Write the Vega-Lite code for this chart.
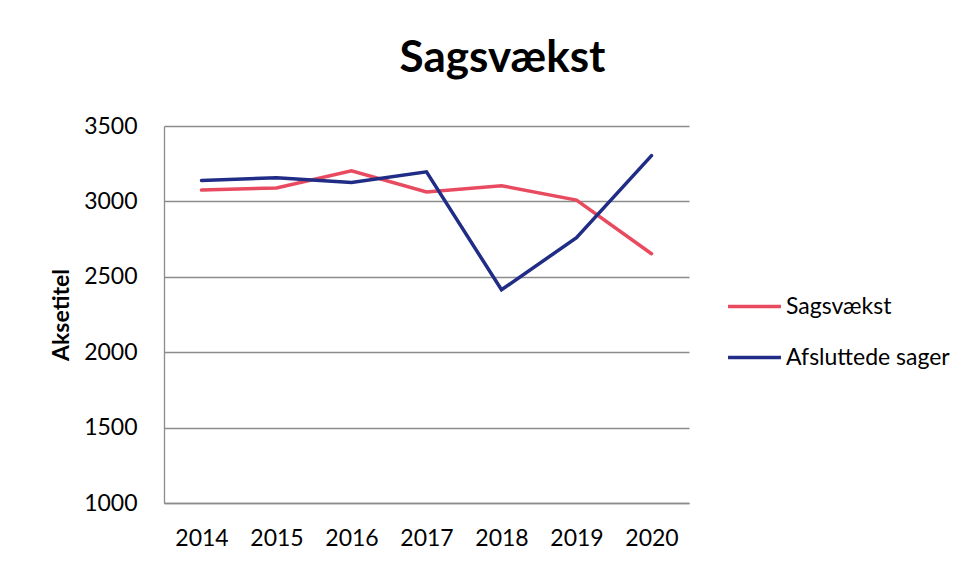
{
  "$schema": "https://vega.github.io/schema/vega-lite/v6.json",
  "width": 525,
  "height": 377,
  "autosize": "none",
  "padding": {"left": 164, "top": 126, "right": 289, "bottom": 58},
  "background": "white",
  "title": {
    "text": "Sagsvækst",
    "font": "Lato",
    "fontSize": 44,
    "fontWeight": "bold",
    "color": "#000000",
    "anchor": "middle",
    "dx": 76,
    "offset": 34
  },
  "data": {
    "values": [
      {"year": "2014", "series": "Sagsvækst", "value": 3075},
      {"year": "2015", "series": "Sagsvækst", "value": 3089},
      {"year": "2016", "series": "Sagsvækst", "value": 3203},
      {"year": "2017", "series": "Sagsvækst", "value": 3062},
      {"year": "2018", "series": "Sagsvækst", "value": 3104},
      {"year": "2019", "series": "Sagsvækst", "value": 3009},
      {"year": "2020", "series": "Sagsvækst", "value": 2653},
      {"year": "2014", "series": "Afsluttede sager", "value": 3139},
      {"year": "2015", "series": "Afsluttede sager", "value": 3157},
      {"year": "2016", "series": "Afsluttede sager", "value": 3126},
      {"year": "2017", "series": "Afsluttede sager", "value": 3196},
      {"year": "2018", "series": "Afsluttede sager", "value": 2414},
      {"year": "2019", "series": "Afsluttede sager", "value": 2759},
      {"year": "2020", "series": "Afsluttede sager", "value": 3304}
    ]
  },
  "mark": {"type": "line", "strokeWidth": 3.5, "strokeCap": "round", "strokeJoin": "miter"},
  "encoding": {
    "x": {
      "field": "year",
      "type": "ordinal",
      "scale": {"type": "point", "padding": 0.5},
      "axis": {
        "title": null,
        "labelAngle": 0,
        "labelFont": "Lato",
        "labelFontSize": 23,
        "labelColor": "#000000",
        "labelPadding": 24,
        "ticks": false,
        "domainColor": "#8c8c8c",
        "domainWidth": 1.3,
        "grid": false
      }
    },
    "y": {
      "field": "value",
      "type": "quantitative",
      "scale": {"domain": [1000, 3500], "nice": false, "zero": false},
      "axis": {
        "title": "Aksetitel",
        "titleFont": "Lato",
        "titleFontSize": 23,
        "titleFontWeight": "bold",
        "titleColor": "#000000",
        "titlePadding": 10,
        "values": [1000, 1500, 2000, 2500, 3000, 3500],
        "format": "d",
        "labelFont": "Lato",
        "labelFontSize": 23,
        "labelColor": "#000000",
        "labelPadding": 27,
        "ticks": false,
        "domainColor": "#8c8c8c",
        "domainWidth": 1.3,
        "grid": true,
        "gridColor": "#8c8c8c",
        "gridWidth": 1.3
      }
    },
    "color": {
      "field": "series",
      "type": "nominal",
      "sort": ["Sagsvækst", "Afsluttede sager"],
      "scale": {"domain": ["Sagsvækst", "Afsluttede sager"], "range": ["#E84A5F", "#202C85"]},
      "legend": {
        "title": null,
        "orient": "none",
        "legendX": 562,
        "legendY": 152,
        "symbolType": "stroke",
        "symbolSize": 2800,
        "symbolStrokeWidth": 3.5,
        "labelFont": "Lato",
        "labelFontSize": 23,
        "labelColor": "#000000",
        "labelLimit": 400,
        "rowPadding": 10,
        "labelOffset": 3
      }
    }
  },
  "config": {"view": {"stroke": null}}
}
